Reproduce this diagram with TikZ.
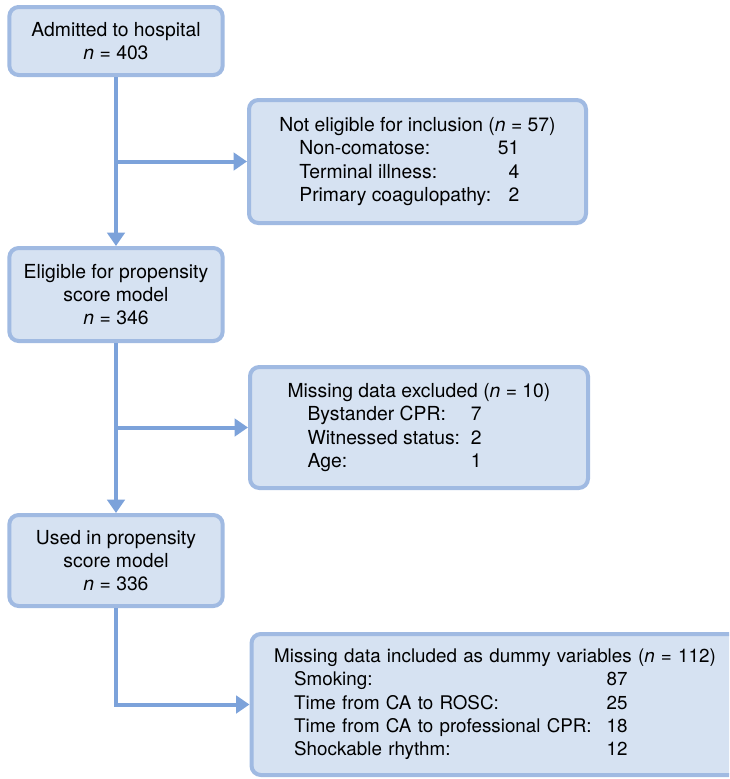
\documentclass[tikz,border=0pt]{standalone}
\usepackage{fontspec}
\setmainfont{TeX Gyre Heros}
\usetikzlibrary{arrows.meta}
\definecolor{boxfill}{RGB}{214,226,242}
\definecolor{boxline}{RGB}{160,186,226}
\definecolor{flowline}{RGB}{124,162,218}
\newcommand{\cntrow}[3]{\hspace*{15pt}\makebox[#1][l]{#2\hfill#3}}
\tikzset{
  stagebox/.style={draw=boxline, fill=boxfill, line width=3pt, rounded corners=7pt, inner sep=0pt, font=\fontsize{14.5}{17.5}\selectfont},
  flow/.style={draw=flowline, line width=3pt, -{Triangle[width=13pt,length=10pt]}}
}

\begin{document}
\begin{tikzpicture}[x=0.75pt,y=-0.75pt]
            \useasboundingbox (0,0) rectangle (729,779);
            \clip (0,0) rectangle (729,779);

            \node[stagebox, align=center, minimum width=160pt, minimum height=51pt] (admitted) at (116,41) {Admitted to hospital\\\textit{n} = 403};
            \node[stagebox, align=center, minimum width=160pt, minimum height=69.75pt] (eligible) at (116,294.5) {Eligible for propensity\\score model\\\textit{n} = 346};
            \node[stagebox, align=center, minimum width=160pt, minimum height=68.25pt] (used) at (116,560.5) {Used in propensity\\score model\\\textit{n} = 336};

            \node[stagebox, align=left, minimum width=252.75pt, minimum height=92.25pt] (noteligible) at (417.5,161.5) {Not eligible for inclusion (\textit{n} = 57)\\
              \cntrow{165pt}{Non-comatose:}{51}\\
              \cntrow{165pt}{Terminal illness:}{4}\\
              \cntrow{165pt}{Primary coagulopathy:}{2}};
            \node[stagebox, align=left, minimum width=253.5pt, minimum height=90.75pt] (excluded) at (419,427.5) {Missing data excluded (\textit{n} = 10)\\
              \cntrow{130.5pt}{Bystander CPR:}{7}\\
              \cntrow{130.5pt}{Witnessed status:}{2}\\
              \cntrow{130.5pt}{Age:}{1}};
            % runs off the right edge
            \node[stagebox, font=\fontsize{14.1}{17.5}\selectfont, anchor=west, align=left, inner xsep=17pt, text width=380pt, minimum height=105.75pt] (dummy) at (249.5,704.5) {Missing data included as dummy variables (\textit{n} = 112)\\
              \cntrow{250pt}{Smoking:}{87}\\
              \cntrow{250pt}{Time from CA to ROSC:}{25}\\
              \cntrow{250pt}{Time from CA to professional CPR:}{18}\\
              \cntrow{250pt}{Shockable rhythm:}{12}};

            \draw[flow] (admitted) -- (eligible);
            \draw[flow] (admitted.south |- noteligible.west) -- (noteligible.west);
            \draw[flow] (eligible) -- (used);
            \draw[flow] (eligible.south |- excluded.west) -- (excluded.west);
            \draw[flow] (used.south) |- (dummy.west);
        \end{tikzpicture}
\end{document}
